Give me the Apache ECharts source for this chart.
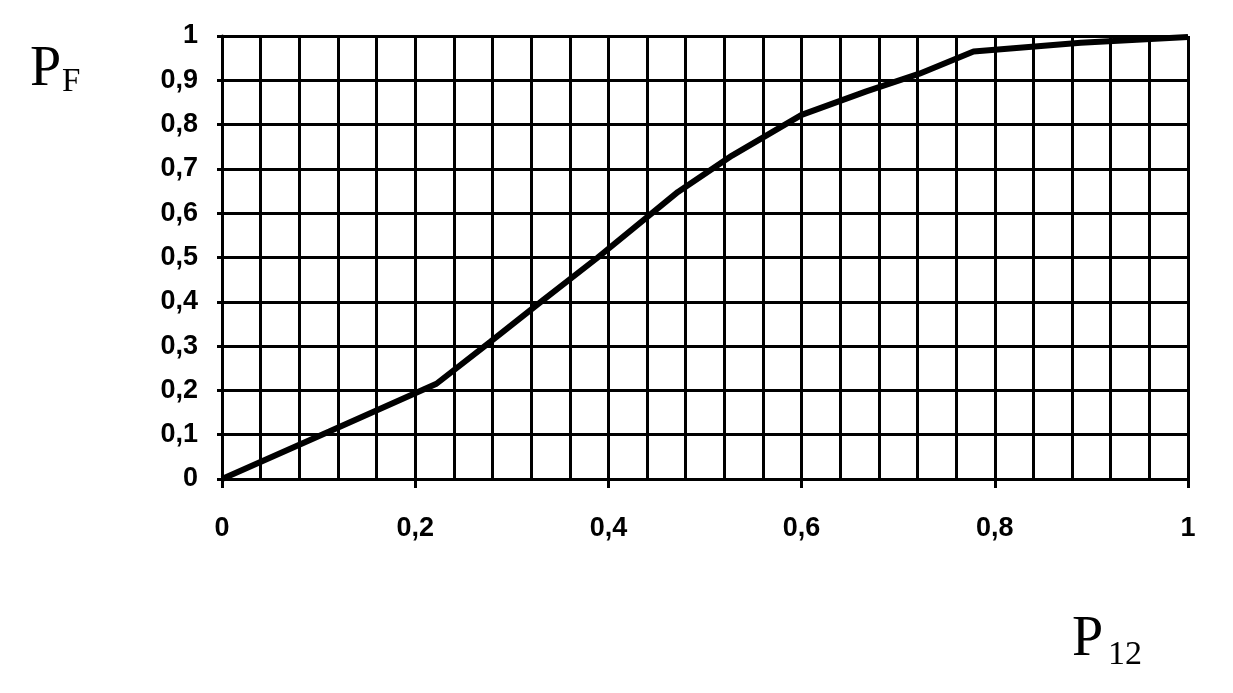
<!DOCTYPE html>
<html>
<head>
<meta charset="utf-8">
<script src="https://cdn.jsdelivr.net/npm/echarts@6/dist/echarts.min.js"></script>
<style>html,body{margin:0;padding:0;background:#fff;}#c{width:1233px;height:693px;}</style>
</head>
<body>
<div id="c"></div>
<script>
// Data
var p12 = [0, 0.111, 0.222, 0.278, 0.333, 0.389, 0.472, 0.528, 0.6, 0.667, 0.722, 0.778, 0.889, 1];
var pF  = [0, 0.107, 0.215, 0.31, 0.405, 0.50, 0.648, 0.73, 0.822, 0.875, 0.915, 0.965, 0.985, 0.998];
var xGridStep = 0.04;
var xLabelStep = 0.2;
var yStep = 0.1;
var yTitleMain = 'P', yTitleSub = 'F';
var xTitleMain = 'P', xTitleSub = '12';

function fmt(v) {
  var r = Math.round(v * 10) / 10;
  if (r === 0) return '0';
  if (r === 1) return '1';
  return r.toFixed(1).replace('.', ',');
}

var points = p12.map(function (x, i) { return [x, pF[i]]; });
var chart = echarts.init(document.getElementById('c'), null, {renderer: 'canvas'});
var labelFont = {color: '#000', fontFamily: 'Liberation Sans, Arial, sans-serif', fontSize: 27, fontWeight: 'bold'};

chart.setOption({
  animation: false,
  backgroundColor: '#fff',
  grid: {left: 222, right: 45, top: 36, bottom: 214},
  xAxis: [
    {
      type: 'value', min: 0, max: 1, interval: xGridStep, position: 'bottom',
      axisLine: {show: true, lineStyle: {color: '#000', width: 3}},
      axisTick: {show: false},
      axisLabel: {show: false},
      splitLine: {show: true, lineStyle: {color: '#000', width: 3}}
    },
    {
      type: 'value', min: 0, max: 1, interval: xLabelStep, position: 'bottom',
      axisLine: {show: false},
      axisTick: {show: true, length: 9, lineStyle: {color: '#000', width: 3}},
      axisLabel: Object.assign({show: true, margin: 36, formatter: fmt}, labelFont),
      splitLine: {show: false}
    }
  ],
  yAxis: {
    type: 'value', min: 0, max: 1, interval: yStep,
    axisLine: {show: true, lineStyle: {color: '#000', width: 3}},
    axisTick: {show: true, length: 5, lineStyle: {color: '#000', width: 3}},
    axisLabel: Object.assign({show: true, margin: 24, formatter: fmt}, labelFont),
    splitLine: {show: true, lineStyle: {color: '#000', width: 3}}
  },
  graphic: [
    {type: 'text', left: 30, top: 42, style: {text: yTitleMain, fill: '#000', font: '56px "Liberation Serif", "Times New Roman", serif'}},
    {type: 'text', left: 62, top: 66, style: {text: yTitleSub, fill: '#000', font: '33px "Liberation Serif", "Times New Roman", serif'}},
    {type: 'text', left: 1072, top: 612, style: {text: xTitleMain, fill: '#000', font: '56px "Liberation Serif", "Times New Roman", serif'}},
    {type: 'text', left: 1108, top: 638, style: {text: xTitleSub, fill: '#000', font: '34px "Liberation Serif", "Times New Roman", serif'}}
  ],
  series: [{
    type: 'line',
    xAxisIndex: 0,
    data: points,
    showSymbol: false,
    symbol: 'none',
    lineStyle: {color: '#000', width: 6},
    z: 5
  }]
});
</script>
</body>
</html>
